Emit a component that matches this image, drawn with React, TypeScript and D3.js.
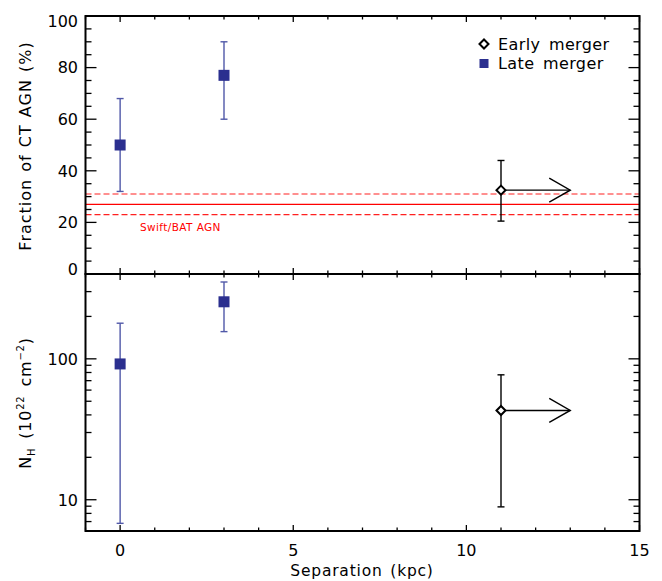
import React from "react";
import * as d3 from "d3";

// ---- data ----
const lateSep = [0, 3];
const lateFrac = [50, 77];
const lateFracLo = [32, 60];
const lateFracHi = [68, 90];
const lateNH = [92, 254];
const lateNHLo = [6.8, 156];
const lateNHHi = [179, 351];

const earlySep = [11];
const earlyFrac = [32.5];
const earlyFracLo = [20.5];
const earlyFracHi = [44];
const earlyNH = [43];
const earlyNHLo = [8.9];
const earlyNHHi = [77];
const earlyArrowTo = [13];

const batFrac = 27;
const batFracLo = 23;
const batFracHi = 31;

const xTicksMajor = [0, 5, 10, 15];
const fracTicksMajor = [0, 20, 40, 60, 80, 100];
const nhTicksMajor = [10, 100];

const FONT = "'DejaVu Sans', 'Liberation Sans', sans-serif";
const BLUE = "#2b2f8f";
const BLUE_BAR = "#5058a8";

export default function App() {
  const W = 662, H = 581;
  const left = 85.5, right = 639.5, top = 16, mid = 274, bottom = 531;
  const x = d3.scaleLinear().domain([-1, 15]).range([left, right]);
  const yF = d3.scaleLinear().domain([0, 100]).range([mid, top]);
  const yN = d3.scaleLog().domain([6, 400]).range([bottom, mid]);

  const xMinor = d3.range(-1, 16, 1).filter((v) => !xTicksMajor.includes(v));
  const fMinor = d3.range(0, 101, 5).filter((v) => !fracTicksMajor.includes(v));
  const nMinor: number[] = [];
  for (const dec of [1, 10, 100]) {
    for (let k = 2; k <= 9; k++) {
      const v = k * dec;
      if (v >= 6 && v <= 400) nMinor.push(v);
    }
  }

  const axisW = 2;
  const cap = 3.5;

  const xTicks = (y0: number, dir: number, key: string) => (
    <g key={key}>
      {xTicksMajor.map((v) => (
        <line key={"M" + v} x1={x(v)} x2={x(v)} y1={y0} y2={y0 + dir * 6} stroke="#000" strokeWidth={1.3} />
      ))}
      {xMinor.map((v) => (
        <line key={"m" + v} x1={x(v)} x2={x(v)} y1={y0} y2={y0 + dir * 3.5} stroke="#000" strokeWidth={1.3} />
      ))}
    </g>
  );

  const yTicks = (scale: any, major: number[], minor: number[], key: string) => (
    <g key={key}>
      {major.map((v) => (
        <g key={"M" + v}>
          <line x1={left} x2={left + 11} y1={scale(v)} y2={scale(v)} stroke="#000" strokeWidth={1.3} />
          <line x1={right} x2={right - 11} y1={scale(v)} y2={scale(v)} stroke="#000" strokeWidth={1.3} />
        </g>
      ))}
      {minor.map((v) => (
        <g key={"m" + v}>
          <line x1={left} x2={left + 6} y1={scale(v)} y2={scale(v)} stroke="#000" strokeWidth={1.3} />
          <line x1={right} x2={right - 6} y1={scale(v)} y2={scale(v)} stroke="#000" strokeWidth={1.3} />
        </g>
      ))}
    </g>
  );

  const errBar = (cx: number, y1: number, y2: number, color: string, key: string) => (
    <g key={key} stroke={color} strokeWidth={1.4}>
      <line x1={cx} x2={cx} y1={y1} y2={y2} />
      <line x1={cx - cap} x2={cx + cap} y1={y1} y2={y1} />
      <line x1={cx - cap} x2={cx + cap} y1={y2} y2={y2} />
    </g>
  );

  const diamond = (cx: number, cy: number, r: number, key: string) => (
    <path key={key} d={`M${cx - r},${cy} L${cx},${cy - r} L${cx + r},${cy} L${cx},${cy + r} Z`} fill="#fff" stroke="#000" strokeWidth={2} />
  );

  const arrow = (x1: number, x2: number, cy: number, key: string) => (
    <g key={key} stroke="#000" strokeWidth={1.4} fill="none">
      <line x1={x1} x2={x2} y1={cy} y2={cy} />
      <path d={`M${x2 - 21},${cy - 12} L${x2},${cy} L${x2 - 21},${cy + 12}`} />
    </g>
  );

  const fracLabelShift = (v: number) => (v === 100 ? 5 : v === 0 ? -5 : 0);

  return (
    <svg width={W} height={H} style={{ position: "absolute", left: 0, top: 0, background: "#fff" }} fontFamily={FONT}>
      <rect width={W} height={H} fill="#fff" />

      {/* red Swift/BAT band */}
      <line x1={left} x2={right} y1={yF(batFrac)} y2={yF(batFrac)} stroke="#ff0000" strokeWidth={1.2} />
      <line x1={left} x2={right} y1={yF(batFracHi)} y2={yF(batFracHi)} stroke="#ff2020" strokeWidth={1.2} strokeDasharray="6,3" />
      <line x1={left} x2={right} y1={yF(batFracLo)} y2={yF(batFracLo)} stroke="#ff2020" strokeWidth={1.2} strokeDasharray="6,3" />
      <text x={140} y={231} fontSize={10.5} fill="#ff0000" letterSpacing={0.4}>Swift/BAT AGN</text>

      {/* top panel data */}
      {lateSep.map((s, i) => errBar(x(s), yF(lateFracLo[i]), yF(lateFracHi[i]), BLUE_BAR, "tfe" + i))}
      {lateSep.map((s, i) => (
        <rect key={"tfs" + i} x={x(s) - 5.5} y={yF(lateFrac[i]) - 5.5} width={11} height={11} fill={BLUE} />
      ))}
      {earlySep.map((s, i) => errBar(x(s), yF(earlyFracLo[i]), yF(earlyFracHi[i]), "#000", "tee" + i))}
      {earlySep.map((s, i) => arrow(x(s), x(earlyArrowTo[i]), yF(earlyFrac[i]), "tea" + i))}
      {earlySep.map((s, i) => diamond(x(s), yF(earlyFrac[i]), 4.5, "ted" + i))}

      {/* bottom panel data */}
      {lateSep.map((s, i) => errBar(x(s), yN(lateNHLo[i]), yN(lateNHHi[i]), BLUE_BAR, "bfe" + i))}
      {lateSep.map((s, i) => (
        <rect key={"bfs" + i} x={x(s) - 5.5} y={yN(lateNH[i]) - 5.5} width={11} height={11} fill={BLUE} />
      ))}
      {earlySep.map((s, i) => errBar(x(s), yN(earlyNHLo[i]), yN(earlyNHHi[i]), "#000", "bee" + i))}
      {earlySep.map((s, i) => arrow(x(s), x(earlyArrowTo[i]), yN(earlyNH[i]), "bea" + i))}
      {earlySep.map((s, i) => diamond(x(s), yN(earlyNH[i]), 4.5, "bed" + i))}

      {/* ticks */}
      {xTicks(top, 1, "xt1")}
      {xTicks(mid, -1, "xt2")}
      {xTicks(mid, 1, "xt3")}
      {xTicks(bottom, -1, "xt4")}
      {yTicks(yF, fracTicksMajor, fMinor, "yt1")}
      {yTicks(yN, nhTicksMajor, nMinor, "yt2")}

      {/* frames */}
      <rect x={left} y={top} width={right - left} height={mid - top} fill="none" stroke="#000" strokeWidth={axisW} />
      <rect x={left} y={mid} width={right - left} height={bottom - mid} fill="none" stroke="#000" strokeWidth={axisW} />

      {/* tick labels */}
      {fracTicksMajor.map((v) => (
        <text key={"fl" + v} x={78} y={yF(v) + fracLabelShift(v)} dy="0.36em" textAnchor="end" fontSize={16}>{v}</text>
      ))}
      {nhTicksMajor.map((v) => (
        <text key={"nl" + v} x={78} y={yN(v)} dy="0.36em" textAnchor="end" fontSize={16}>{v}</text>
      ))}
      {xTicksMajor.map((v) => (
        <text key={"xl" + v} x={x(v)} y={556} textAnchor="middle" fontSize={16}>{v}</text>
      ))}

      {/* axis titles */}
      <text x={362} y={576} textAnchor="middle" fontSize={15.5} letterSpacing={0.8} wordSpacing={2}>Separation (kpc)</text>
      <text transform={`translate(31,146) rotate(-90)`} textAnchor="middle" fontSize={16} letterSpacing={1} wordSpacing={1}>Fraction of CT AGN (%)</text>
      <text transform={`translate(31,403) rotate(-90)`} textAnchor="middle" fontSize={16} letterSpacing={0.8} wordSpacing={3}>
        <tspan>N</tspan>
        <tspan fontSize={10} dy={4}>H</tspan>
        <tspan dy={-4}> (10</tspan>
        <tspan fontSize={10} dy={-7}>22</tspan>
        <tspan dy={7}> cm</tspan>
        <tspan fontSize={10} dy={-7}>−2</tspan>
        <tspan dy={7}>)</tspan>
      </text>

      {/* legend */}
      {diamond(484, 44, 4.5, "lgd")}
      <text x={498} y={49.5} fontSize={16} letterSpacing={0.4} wordSpacing={3}>Early merger</text>
      <rect x={479.5} y={59} width={9} height={9} fill={BLUE} />
      <text x={498} y={69} fontSize={16} letterSpacing={0.4} wordSpacing={3}>Late merger</text>
    </svg>
  );
}
